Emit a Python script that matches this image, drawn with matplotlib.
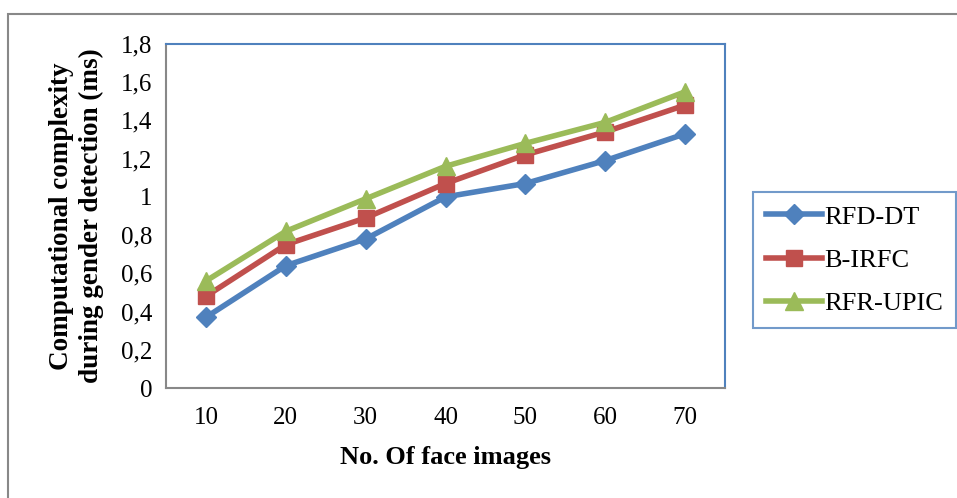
import matplotlib
matplotlib.use("Agg")
import matplotlib.pyplot as plt
from matplotlib.patches import Rectangle

plt.rcParams['font.family'] = ['Liberation Serif', 'DejaVu Serif']

images = [10, 20, 30, 40, 50, 60, 70]
rfd_dt = [0.37, 0.64, 0.78, 1.00, 1.07, 1.19, 1.33]
b_irfc = [0.48, 0.75, 0.89, 1.07, 1.22, 1.34, 1.48]
rfr_upic = [0.56, 0.82, 0.99, 1.16, 1.28, 1.39, 1.55]
yticks = [0, 0.2, 0.4, 0.6, 0.8, 1.0, 1.2, 1.4, 1.6, 1.8]
ytick_labels = ['0', '0,2', '0,4', '0,6', '0,8', '1', '1,2', '1,4', '1,6', '1,8']

W, H = 957, 498
fig = plt.figure(figsize=(W / 100, H / 100), dpi=100)

# outer frame (only left/top visible in the crop)
fig.add_artist(Rectangle((8 / W, -0.1), 1.2, (H - 14) / H + 0.1, transform=fig.transFigure,
                         fill=False, edgecolor='#888888', linewidth=1.5))

ax = fig.add_axes([166 / W, (H - 388) / H, (725 - 166) / W, (388 - 44) / H])

ax.plot(images, rfd_dt, color='#4F81BD', linewidth=4, marker='D', markersize=10, label='RFD-DT')
ax.plot(images, b_irfc, color='#C0504D', linewidth=4, marker='s', markersize=11, label='B-IRFC')
ax.plot(images, rfr_upic, color='#9BBB59', linewidth=4, marker='^', markersize=13, label='RFR-UPIC')

ax.set_xlim(5, 75)
ax.set_ylim(0, 1.8)
ax.set_xticks(images)
ax.set_yticks(yticks)
ax.set_yticklabels(ytick_labels)
ax.tick_params(length=0, labelsize=18, pad=10)
ax.tick_params(axis='x', pad=14)

for side in ['left', 'bottom']:
    ax.spines[side].set_color('#888888')
    ax.spines[side].set_linewidth(1.5)
for side in ['top', 'right']:
    ax.spines[side].set_color('#4F81BD')
    ax.spines[side].set_linewidth(1.5)

ax.set_xlabel('No. Of face images', fontsize=19, fontweight='bold', labelpad=12)
ax.set_ylabel('Computational complexity\nduring gender detection (ms)', fontsize=19.5,
              fontweight='bold', labelpad=12, linespacing=1.25)

leg = fig.legend(loc='upper left', bbox_to_anchor=(753 / W, (H - 192) / H), fontsize=19,
                 frameon=True, fancybox=False, handlelength=2.1, borderpad=0.5,
                 labelspacing=0.75, handletextpad=0.1, borderaxespad=0)
leg.get_frame().set_edgecolor('#4F81BD')
leg.get_frame().set_linewidth(1.5)

fig.savefig('out.png', dpi=100)
